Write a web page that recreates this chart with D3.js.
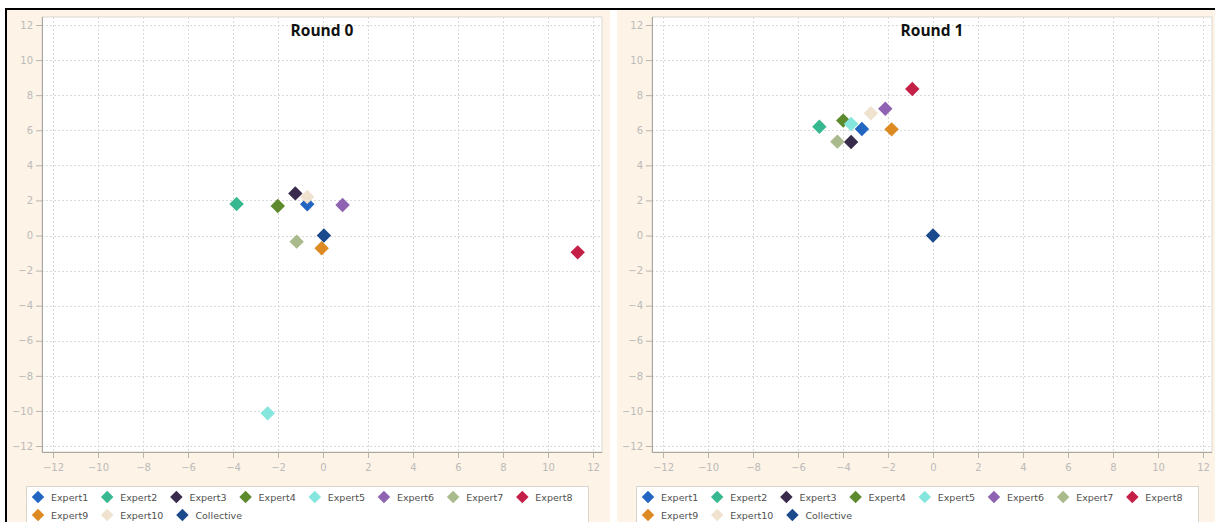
<!DOCTYPE html>
<html>
<head>
<meta charset="utf-8">
<script src="https://cdn.jsdelivr.net/npm/d3@7"></script>
<style>
  html, body { margin: 0; padding: 0; background: #ffffff; }
  svg { display: block; }
</style>
</head>
<body>
<svg id="chart" width="1215" height="522"></svg>
<script>
// Series names, in drawing order (Collective on top)
const seriesNames = ["Expert1", "Expert2", "Expert3", "Expert4", "Expert5",
                     "Expert6", "Expert7", "Expert8", "Expert9", "Expert10", "Collective"];
const seriesColors = ["#2266c2", "#38b890", "#392b4c", "#5c8a2c", "#84e6dc",
                      "#8f63b1", "#a9ba8c", "#c41f47", "#dd8a22", "#efe3d0", "#1b4a8c"];

// Round 0 estimates
const round0X = [-0.7, -3.84, -1.23, -2.01, -2.46, 0.87, -1.17, 11.32, -0.06, -0.7, 0.04];
const round0Y = [1.78, 1.8, 2.4, 1.68, -10.14, 1.74, -0.35, -0.96, -0.73, 2.2, 0.0];

// Round 1 estimates
const round1X = [-3.16, -5.05, -3.64, -3.99, -3.64, -2.12, -4.25, -0.92, -1.84, -2.76, 0.0];
const round1Y = [6.07, 6.2, 5.33, 6.55, 6.36, 7.23, 5.35, 8.35, 6.05, 6.97, 0.0];

const panelTitles = ["Round 0", "Round 1"];
const tickValues = [-12, -10, -8, -6, -4, -2, 0, 2, 4, 6, 8, 10, 12];

const svg = d3.select("#chart");
const fontFamily = "'DejaVu Sans', Verdana, sans-serif";

function diamond(sel, size) {
  return sel.attr("d", d3.symbol(d3.symbolSquare, size)());
}

function drawPanel(originX, xs, ys, title) {
  const g = svg.append("g").attr("transform", `translate(${originX},0)`);

  // panel background
  g.append("rect").attr("x", 0).attr("y", 10).attr("width", 603).attr("height", 512)
    .attr("fill", "#fdf3e6");

  const plot = { left: 35, right: 595, top: 17, bottom: 452 };
  const x = d3.scaleLinear().domain([-12, 12]).range([46, 586]);
  const y = d3.scaleLinear().domain([-12, 12]).range([446, 25]);

  g.append("rect")
    .attr("x", plot.left).attr("y", plot.top)
    .attr("width", plot.right - plot.left).attr("height", plot.bottom - plot.top)
    .attr("fill", "#ffffff").attr("stroke", "#dcd8d2").attr("stroke-width", 1);

  // dotted grid
  const grid = g.append("g").attr("stroke", "#d9d9d9").attr("stroke-width", 1)
    .attr("stroke-dasharray", "2,2");
  grid.selectAll("line.v").data(tickValues).join("line").attr("class", "v")
    .attr("x1", d => x(d) + 0.5).attr("x2", d => x(d) + 0.5)
    .attr("y1", plot.top).attr("y2", plot.bottom);
  grid.selectAll("line.h").data(tickValues).join("line").attr("class", "h")
    .attr("y1", d => Math.round(y(d)) + 0.5).attr("y2", d => Math.round(y(d)) + 0.5)
    .attr("x1", plot.left).attr("x2", plot.right);

  // axes
  const xAxis = g.append("g").attr("transform", `translate(0,${plot.bottom})`)
    .call(d3.axisBottom(x).tickValues(tickValues).tickSize(6).tickPadding(6).tickSizeOuter(0));
  const yAxis = g.append("g").attr("transform", `translate(${plot.left},0)`)
    .call(d3.axisLeft(y).tickValues(tickValues).tickSize(6).tickPadding(3).tickSizeOuter(0));
  [xAxis, yAxis].forEach(a => {
    a.select(".domain").remove();
    a.selectAll(".tick line").attr("stroke", "#b8b4ae");
    a.selectAll(".tick text").attr("fill", "#bbbbbb")
      .style("font-family", fontFamily).style("font-size", "10px");
  });
  g.append("line").attr("x1", plot.left + 0.5).attr("x2", plot.left + 0.5)
    .attr("y1", plot.top).attr("y2", plot.bottom).attr("stroke", "#aaa6a0");
  g.append("line").attr("x1", plot.left).attr("x2", plot.right)
    .attr("y1", plot.bottom + 0.5).attr("y2", plot.bottom + 0.5).attr("stroke", "#aaa6a0");

  // title
  g.append("text").attr("x", (plot.left + plot.right) / 2).attr("y", 36)
    .attr("text-anchor", "middle")
    .style("font-family", "'Open Sans', 'Liberation Sans', sans-serif")
    .style("font-weight", "bold").style("font-size", "15.5px").attr("fill", "#111")
    .text(title);

  // points
  const pts = seriesNames.map((name, i) => ({ name, x: xs[i], y: ys[i], color: seriesColors[i] }));
  g.append("g").selectAll("path").data(pts).join("path")
    .call(diamond, 104)
    .attr("transform", d => `translate(${x(d.x)},${y(d.y)}) rotate(45)`)
    .attr("fill", d => d.color);

  // legend
  const legend = g.append("g");
  legend.append("rect").attr("x", 19.5).attr("y", 486.5).attr("width", 562).attr("height", 50)
    .attr("fill", "#ffffff").attr("stroke", "#d8d4ce");
  const perRow = 8;
  let cx = 31;
  pts.forEach((d, i) => {
    if (i % perRow === 0) cx = 31;
    const row = Math.floor(i / perRow);
    const cy = 497 + row * 18;
    legend.append("path").call(diamond, 78)
      .attr("transform", `translate(${cx},${cy}) rotate(45)`).attr("fill", d.color);
    const t = legend.append("text").attr("x", cx + 13).attr("y", cy + 3.5)
      .style("font-family", fontFamily).style("font-size", "9.5px").attr("fill", "#505050")
      .text(d.name);
    cx = cx + 13 + t.node().getComputedTextLength() + 19;
  });
}

drawPanel(7, round0X, round0Y, panelTitles[0]);
drawPanel(617, round1X, round1Y, panelTitles[1]);

// outer frame lines
svg.append("line").attr("x1", 6).attr("x2", 1215).attr("y1", 9).attr("y2", 9)
  .attr("stroke", "#000").attr("stroke-width", 2);
svg.append("line").attr("x1", 6).attr("x2", 6).attr("y1", 8).attr("y2", 522)
  .attr("stroke", "#000").attr("stroke-width", 2);
</script>
</body>
</html>
